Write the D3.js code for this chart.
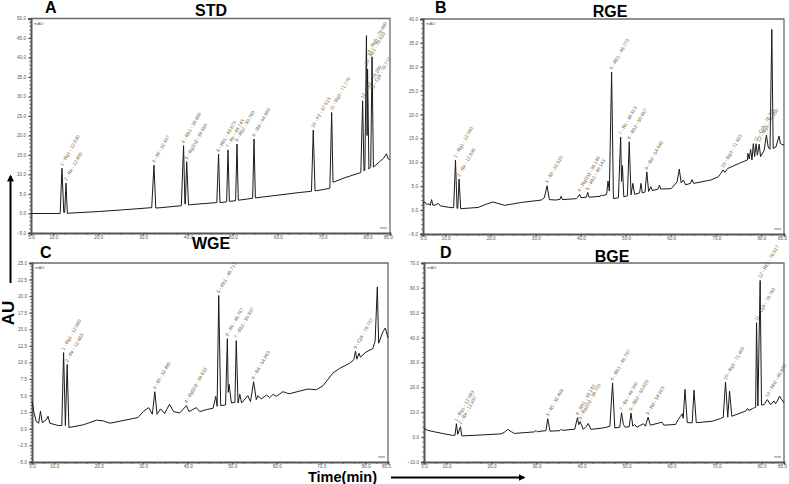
<!DOCTYPE html>
<html><head><meta charset="utf-8">
<script src="https://cdn.jsdelivr.net/npm/d3@7"></script>
<style>body{margin:0;background:#fff}svg{display:block}</style>
</head><body><svg id="c" width="789" height="484"></svg>
<script>
// ---------- data ----------
const timeTicks = [5, 10, 20, 30, 40, 50, 60, 70, 80, 85];
const stdYTicks = [-5, 0, 5, 10, 15, 20, 25, 30, 35, 40, 45, 50];
const rgeYTicks = [-5, 0, 5, 10, 15, 20, 25, 30, 35, 40];
const wgeYTicks = [-5, -2.5, 0, 2.5, 5, 7.5, 10, 12.5, 15, 17.5, 20, 22.5, 25];
const bgeYTicks = [-10, 0, 10, 20, 30, 40, 50, 60, 70];

// [time (min), signal (mAU)]
const stdTrace = [[5,0],[11.5,0],[11.9,11.6],[12.3,0.3],[12.5,0.3],[12.8,7.8],[13.1,0],[13.6,0.1],[20,0.5],[25,0.9],[31.9,1.5],[32.4,12.4],[32.8,1.4],[34,1.5],[38.5,2.0],[39.0,17.4],[39.3,2.4],[39.4,2.5],[39.7,13.3],[40.1,2.2],[42,2.4],[46.4,2.8],[46.8,15.2],[47.1,2.8],[48.6,3.0],[48.9,16.3],[49.2,3.1],[50.6,3.3],[50.9,17.8],[51.2,3.4],[54.4,3.9],[54.7,19.1],[55.0,4.0],[60,4.7],[65,5.4],[67.5,5.7],[67.9,21.4],[68.3,5.8],[70,6.1],[71.6,6.5],[72.0,25.9],[72.3,8.0],[75,9.2],[78.5,10.5],[78.9,28.9],[79.2,10.9],[79.4,11.2],[79.75,45.6],[79.9,20],[80.0,37.0],[80.3,11.4],[80.7,12],[81.0,40.1],[81.3,11.9],[82.7,13.3],[83.6,14.2],[84.2,15.3],[84.6,14.0],[85,13.7]];
const rgeTrace = [[5,1.5],[5.4,1.7],[5.8,1.2],[6.3,1.3],[6.6,1.0],[6.9,2.2],[7.2,1.0],[7.8,1.1],[8.4,1.4],[8.8,0.9],[10.6,0.6],[11.8,0.5],[12.2,10.5],[12.55,0.35],[12.7,0.4],[13.0,6.5],[13.35,0.3],[17.2,0.55],[19.2,1.3],[20.5,1.7],[21.6,1.4],[23.1,1.0],[26.8,1.6],[31.2,2.1],[31.9,2.6],[32.5,5.1],[33.0,2.2],[34.5,2.1],[35.4,2.3],[35.6,2.9],[35.9,2.2],[39.0,2.4],[39.3,2.7],[39.7,3.3],[40.0,2.6],[41.2,2.7],[41.5,3.7],[41.8,2.7],[44.3,2.9],[44.5,3.2],[44.8,3.0],[45.7,3.3],[46.0,6.1],[46.3,4.0],[46.8,28.9],[47.2,2.4],[48.3,2.6],[48.8,15.3],[49.0,6.0],[49.2,9.3],[49.5,2.8],[50.3,3.0],[50.7,14.3],[51.1,3.2],[51.5,5.6],[51.9,3.3],[53.0,3.6],[53.3,5.6],[53.6,3.6],[54.2,3.8],[54.6,8.0],[55.0,3.9],[55.5,4.9],[55.8,4.1],[57.1,4.4],[57.4,5.2],[57.7,4.4],[60.0,4.5],[61.3,5.9],[61.8,8.6],[62.2,5.7],[62.7,6.3],[63.2,5.3],[64.3,5.6],[64.6,6.4],[65.0,5.6],[68.8,6.3],[70.5,7.0],[71.0,7.7],[71.5,8.4],[71.9,7.9],[72.5,8.7],[75.1,9.8],[76.9,10.5],[77.0,11.9],[77.3,10.7],[77.6,12.7],[77.9,10.5],[78.2,13.9],[78.5,11.2],[78.8,13.9],[79.1,11.5],[79.5,13.8],[79.8,11.2],[80.6,12.5],[81.1,15.7],[81.5,13.2],[81.9,12.7],[82.3,37.8],[82.6,12.9],[83.2,13.2],[83.9,15.5],[84.2,13.9],[85,13.6]];
const wgeTrace = [[5,4.2],[5.45,2.4],[5.97,1.1],[6.5,0.85],[6.9,2.7],[7.3,0.95],[8.2,1.35],[8.6,1.9],[9.0,0.85],[10.9,0.5],[11.7,0.5],[12.1,11.5],[12.5,0.5],[12.9,9.7],[13.3,0.2],[16.5,0.6],[19.5,1.3],[21.0,1.2],[22.5,0.85],[27.0,1.45],[28.8,1.7],[30.0,2.6],[31.2,3.2],[32.05,2.2],[32.6,5.6],[33.1,2.2],[33.9,3.0],[34.8,2.3],[35.9,3.7],[36.8,2.6],[38.2,2.4],[39.7,3.5],[40.3,2.6],[41.9,3.2],[42.7,2.6],[44.2,2.9],[45.7,3.1],[46.3,4.9],[46.6,3.4],[46.96,20.1],[47.4,3.5],[48.5,3.6],[48.9,13.6],[49.1,5.5],[49.3,6.7],[49.8,3.9],[50.6,4.0],[50.9,13.3],[51.3,3.9],[51.7,5.2],[52.1,3.9],[53.5,5.0],[54.1,4.1],[54.8,7.1],[55.4,4.4],[55.8,5.0],[56.5,4.5],[57.7,5.1],[58.4,4.7],[59.2,5.2],[59.9,4.9],[61.4,5.6],[62.2,5.4],[62.9,5.3],[65.2,5.7],[67.0,6.0],[68.9,5.9],[70.4,6.5],[72.6,8.4],[74.1,9.1],[76.4,9.9],[77.3,10.4],[77.7,11.7],[78.0,10.5],[78.5,11.4],[78.8,10.8],[80.1,11.6],[81.6,12.1],[82.1,13.2],[82.6,21.4],[82.9,12.9],[83.9,14.7],[84.4,15.2],[85,13.7]];
const bgeTrace = [[5,3.5],[5.9,2.7],[7.4,2.1],[9.6,1.3],[11.4,0.7],[11.9,0.8],[12.2,5.4],[12.5,1.1],[13.1,4.2],[13.4,0.5],[17.0,0.8],[22.1,1.3],[22.9,2.0],[23.6,3.1],[24.4,2.2],[25.1,1.5],[29.5,2.1],[29.9,2.7],[30.2,2.1],[31.0,2.4],[32.1,2.6],[32.5,7.4],[33.0,2.4],[35.2,2.6],[35.5,3.2],[35.8,2.7],[38.5,3.2],[39.1,7.8],[39.4,5.0],[39.7,6.2],[40.4,3.1],[41.1,4.4],[41.5,5.5],[42.1,3.1],[45.2,3.8],[46.3,4.4],[46.9,21.8],[47.4,3.7],[48.5,4.0],[48.9,9.8],[49.3,5.1],[49.7,4.0],[50.6,4.2],[51.0,9.7],[51.4,4.4],[51.8,5.1],[52.3,4.0],[53.8,5.4],[54.2,4.4],[54.8,8.0],[55.3,4.8],[57.9,6.0],[58.3,4.8],[60.9,5.1],[61.5,7.1],[62.0,8.4],[62.4,9.4],[62.6,7.6],[63.0,19.2],[63.5,5.8],[64.6,5.8],[65.0,18.9],[65.5,5.8],[69.1,6.4],[70.9,7.5],[71.5,8.0],[72.0,22.1],[72.5,8.0],[72.9,18.5],[73.4,8.4],[76.5,10.5],[76.9,11.5],[77.2,10.7],[78.0,11.5],[78.4,11.8],[78.7,12.0],[78.9,46.0],[79.2,12.5],[79.7,63.0],[80.0,12.9],[80.6,13.1],[81.3,15.1],[82.0,13.1],[82.8,14.5],[83.1,13.4],[83.5,14.5],[84.0,16.5],[84.5,15.1],[85,13.8]];

// [time, signal where label starts, text]
const stdLabels = [[11.9,11.6,"1 - Rg1 - 12.030"],[12.8,7.8,"2 - Re - 12.800"],[32.4,12.4,"3 - Rf - 32.437"],[39.0,17.4,"4 - Rb1 - 38.860"],[39.7,13.3,"5 - Rg2(s) - 39.650"],[46.8,15.2,"6 - Rh1 - 46.673"],[48.9,16.3,"7 - Rc - 48.743"],[50.9,17.8,"8 - Rb2 - 50.760"],[54.7,19.1,"9 - Rd - 54.860"],[67.9,21.4,"10 - F2 - 67.613"],[72.0,25.9,"11 - Rg3 - 71.770"],[78.9,28.9,"12 - Rk3 - 78.260"],[79.75,37.5,"13 - Rk1 - 79.610"],[80.1,40.0,"14 - Rg5 - 79.890"],[81.0,31.0,"15 - Cpk - 78.777"]];
const rgeLabels = [[12.2,10.5,"1 - Rg1 - 12.063"],[13.0,6.5,"2 - Re - 12.830"],[32.5,5.1,"3 - Rf - 32.510"],[39.7,3.3,"4 - Rg2(s) - 39.140"],[41.5,3.7,"5 - Rh1 - 40.143"],[46.8,28.9,"6 - Rb1 - 46.773"],[48.8,15.3,"7 - Rc - 48.813"],[50.7,14.3,"8 - Rb2 - 50.857"],[54.6,8.0,"9 - Rd - 54.640"],[71.5,8.4,"10 - Rg3 - 71.823"],[78.8,13.9,"11 - Cpk - 78.750"],[79.5,13.8,"12 - Rg5 - 78.950"]];
const wgeLabels = [[12.1,11.5,"1 - Rg1 - 12.060"],[12.9,9.7,"2 - Re - 12.863"],[32.6,5.6,"3 - Rf - 32.480"],[39.7,3.5,"4 - Rg2(s) - 39.633"],[46.96,20.1,"5 - Rb1 - 46.717"],[48.9,13.6,"6 - Rc - 48.767"],[50.9,13.3,"7 - Rb2 - 50.837"],[54.8,7.1,"8 - Rd - 54.863"],[77.7,11.7,"9 - Cpk - 78.737"]];
const bgeLabels = [[12.2,5.4,"1 - Rg1 - 12.093"],[13.1,4.2,"2 - Re - 12.837"],[32.5,7.4,"3 - Rf - 32.493"],[39.1,7.8,"4 - Rh1 - 39.143"],[39.7,6.2,"5 - Rg2(s) - 39.723"],[46.9,21.8,"6 - Rb1 - 46.737"],[48.9,9.8,"7 - Rc - 48.780"],[51.0,9.7,"8 - Rb2 - 50.823"],[54.8,8.0,"9 - Rd - 54.923"],[72.0,22.1,"10 - Rg3 - 71.800"],[78.9,46.0,"11 - Cpk - 78.783"],[79.7,63.0,"12 - Rk1 - 79.517"],[81.3,15.1,"13 - Rh2 - 80.950"]];

const panelLetters = ["A", "B", "C", "D"];
const panelTitles = ["STD", "RGE", "WGE", "BGE"];
const yAxisTitle = "AU";
const xAxisTitle = "Time(min)";

// ---------- layout ----------
const FONT = "'Liberation Sans', Arial, Helvetica, sans-serif";
const panels = [
  {trace: stdTrace, labels: stdLabels, yTicks: stdYTicks, yMinor: 1, xr: [31, 390], yr: [233, 18.5], letter: [45, 13], title: [211, 16]},
  {trace: rgeTrace, labels: rgeLabels, yTicks: rgeYTicks, yMinor: 1, xr: [423, 784], yr: [234, 19], letter: [435, 13], title: [610, 17]},
  {trace: wgeTrace, labels: wgeLabels, yTicks: wgeYTicks, yMinor: 0.5, xr: [32, 388], yr: [462, 263], letter: [40, 258], title: [211, 249]},
  {trace: bgeTrace, labels: bgeLabels, yTicks: bgeYTicks, yMinor: 2, xr: [424, 784], yr: [462, 263], letter: [440, 258], title: [612, 262]}
];

const svg = d3.select("#c");

panels.forEach((p, i) => {
  const yDom = d3.extent(p.yTicks);
  const x = d3.scaleLinear().domain([5, 85]).range(p.xr);
  const y = d3.scaleLinear().domain(yDom).range(p.yr);
  const g = svg.append("g");

  // frame top / right
  g.append("path")
    .attr("d", `M${p.xr[0]},${p.yr[1]}H${p.xr[1]}V${p.yr[0]}`)
    .attr("fill", "none").attr("stroke", "#6a6a6a").attr("stroke-width", 1.3);

  // minor ticks
  const xMinor = d3.range(5, 85.01, 2.5);
  g.append("g").selectAll("line").data(xMinor).join("line")
    .attr("x1", d => x(d)).attr("x2", d => x(d))
    .attr("y1", p.yr[0]).attr("y2", p.yr[0] + 2)
    .attr("stroke", "#555").attr("stroke-width", 0.7);
  const yMinor = d3.range(yDom[0], yDom[1] + 0.001, p.yMinor);
  g.append("g").selectAll("line").data(yMinor).join("line")
    .attr("x1", p.xr[0]).attr("x2", p.xr[0] - 2)
    .attr("y1", d => y(d)).attr("y2", d => y(d))
    .attr("stroke", "#555").attr("stroke-width", 0.7);

  // axes
  const xAxis = d3.axisBottom(x).tickValues(timeTicks).tickFormat(d3.format(".1f")).tickSize(2.5).tickPadding(0);
  const yAxis = d3.axisLeft(y).tickValues(p.yTicks).tickFormat(d3.format(".1f")).tickSize(3).tickPadding(2);
  const gx = g.append("g").attr("transform", `translate(0,${p.yr[0]})`).call(xAxis);
  const gy = g.append("g").attr("transform", `translate(${p.xr[0]},0)`).call(yAxis);
  [gx, gy].forEach(a => {
    a.select(".domain").attr("stroke", "#555").attr("stroke-width", 2);
    a.selectAll(".tick line").attr("stroke", "#444").attr("stroke-width", 0.8);
    a.selectAll("text").attr("font-family", FONT).attr("font-size", 4.6).attr("fill", "#555");
  });
  // keep the last time label inside the page
  gx.selectAll(".tick text").filter(d => d === 85).attr("dx", -2);

  // unit labels
  g.append("text").attr("x", p.xr[0] + 3).attr("y", p.yr[1] + 6)
    .attr("font-family", FONT).attr("font-size", 4.2).attr("fill", "#555").text("mAU");
  g.append("text").attr("x", p.xr[1] - 3).attr("y", p.yr[0] - 4).attr("text-anchor", "end")
    .attr("font-family", FONT).attr("font-size", 4.2).attr("fill", "#555").text("min");

  // trace
  const line = d3.line().x(d => x(d[0])).y(d => y(d[1]));
  g.append("path").datum(p.trace).attr("d", line)
    .attr("fill", "none").attr("stroke", "#1a1a1a").attr("stroke-width", 1)
    .attr("stroke-linejoin", "round");

  // peak labels
  g.append("g").selectAll("text").data(p.labels).join("text")
    .attr("transform", d => `translate(${x(d[0]) + 0.5},${y(d[1]) - 2}) rotate(-60)`)
    .attr("font-family", FONT).attr("font-size", 4.8).attr("fill", "#6a5638")
    .text(d => d[2]);

  // titles
  svg.append("text").attr("x", p.letter[0]).attr("y", p.letter[1])
    .attr("font-family", FONT).attr("font-weight", "bold").attr("font-size", 16).attr("fill", "#000")
    .text(panelLetters[i]);
  svg.append("text").attr("x", p.title[0]).attr("y", p.title[1]).attr("text-anchor", "middle")
    .attr("font-family", FONT).attr("font-weight", "bold").attr("font-size", 16).attr("fill", "#000")
    .text(panelTitles[i]);
});

// arrow marker
svg.append("defs").append("marker").attr("id", "ah")
  .attr("viewBox", "0 0 10 10").attr("refX", 8).attr("refY", 5)
  .attr("markerWidth", 3.5).attr("markerHeight", 3.5).attr("orient", "auto")
  .append("path").attr("d", "M0,0L10,5L0,10Z").attr("fill", "#000");

// vertical AU arrow
svg.append("line").attr("x1", 10.5).attr("x2", 10.5).attr("y1", 283).attr("y2", 176)
  .attr("stroke", "#000").attr("stroke-width", 2).attr("marker-end", "url(#ah)");
svg.append("text").attr("transform", "translate(14,313) rotate(-90)").attr("text-anchor", "middle")
  .attr("font-family", FONT).attr("font-weight", "bold").attr("font-size", 17).text(yAxisTitle);

// horizontal time arrow
svg.append("text").attr("x", 308).attr("y", 482)
  .attr("font-family", FONT).attr("font-weight", "bold").attr("font-size", 14.5).text(xAxisTitle);
svg.append("line").attr("x1", 391).attr("x2", 524).attr("y1", 477.5).attr("y2", 477.5)
  .attr("stroke", "#000").attr("stroke-width", 1.8).attr("marker-end", "url(#ah)");
</script>
</body></html>
